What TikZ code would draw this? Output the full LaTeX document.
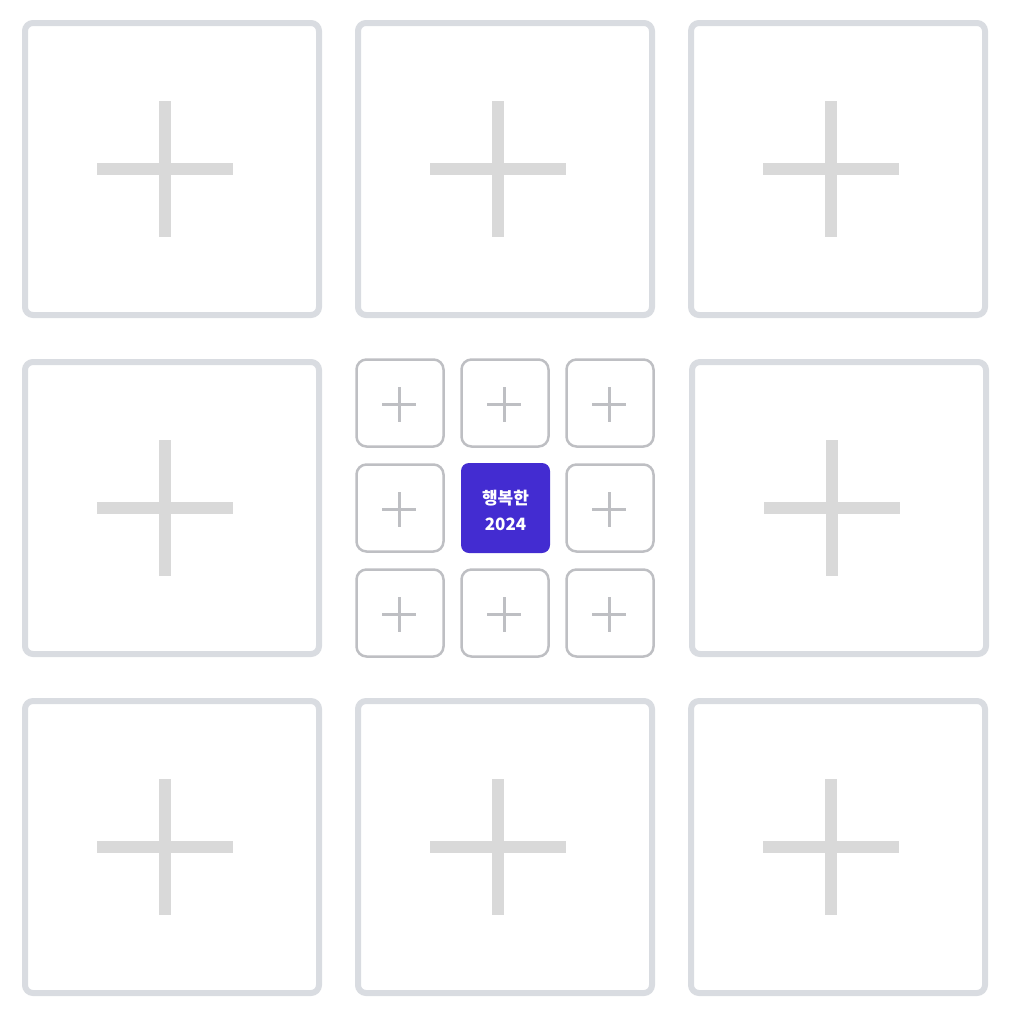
\documentclass[tikz,border=0pt]{standalone}
\usepackage{fontspec}
\newfontfamily\kor{Noto Sans CJK KR}
\definecolor{framegray}{HTML}{D9DCE1}
\definecolor{crossgray}{HTML}{D9D9D9}
\definecolor{smallgray}{HTML}{BEBFC3}
\definecolor{goalblue}{HTML}{432CD1}

\begin{document}
\begin{tikzpicture}[x=1pt, y=-1pt]
    \tikzstyle{bigbox}=[draw=framegray, line width=6pt, rounded corners=8pt, minimum width=294pt, minimum height=292pt, inner sep=0pt,
      path picture={\draw[crossgray, line width=12pt] ([xshift=-75pt]path picture bounding box.center) -- ++(136pt,0)
        ([xshift=-7pt, yshift=68pt]path picture bounding box.center) -- ++(0,-136pt);}]
    \tikzstyle{smallbox}=[draw=smallgray, line width=2.5pt, rounded corners=10pt, minimum width=87pt, minimum height=87pt, inner sep=0pt,
      path picture={\draw[smallgray, line width=3pt] ([xshift=-18pt, yshift=-1.5pt]path picture bounding box.center) -- ++(34pt,0)
        ([xshift=-1pt, yshift=16pt]path picture bounding box.center) -- ++(0,-35pt);}]
    \tikzstyle{goalbox}=[fill=goalblue, rounded corners=8pt, minimum width=89pt, minimum height=90pt, inner sep=0pt]
    \tikzstyle{goaltext}=[text=white, align=center, yshift=-2pt, inner sep=0pt, font=\kor\bfseries\fontsize{17}{26}\selectfont]

    \useasboundingbox (0,0) rectangle (1011,1017);

    % outer ring
    \node[bigbox] (b11) at (172,169) {};
    \node[bigbox] (b12) at (505,169) {};
    \node[bigbox] (b13) at (838,169) {};

    \node[bigbox] (b21) at (172,508) {};
    \node[bigbox] (b23) at (839,508) {};

    \node[bigbox] (b31) at (172,847) {};
    \node[bigbox] (b32) at (505,847) {};
    \node[bigbox] (b33) at (838,847) {};

    % centre grid
    \node[smallbox] (s11) at (400,403) {};
    \node[smallbox] (s12) at (505,403) {};
    \node[smallbox] (s13) at (610,403) {};

    \node[smallbox] (s21) at (400,508) {};
    \node[goalbox, label={[goaltext]center:{행복한\\2024}}] (goal) at (505.5,508) {};
    \node[smallbox] (s23) at (610,508) {};

    \node[smallbox] (s31) at (400,613) {};
    \node[smallbox] (s32) at (505,613) {};
    \node[smallbox] (s33) at (610,613) {};
  \end{tikzpicture}
\end{document}
